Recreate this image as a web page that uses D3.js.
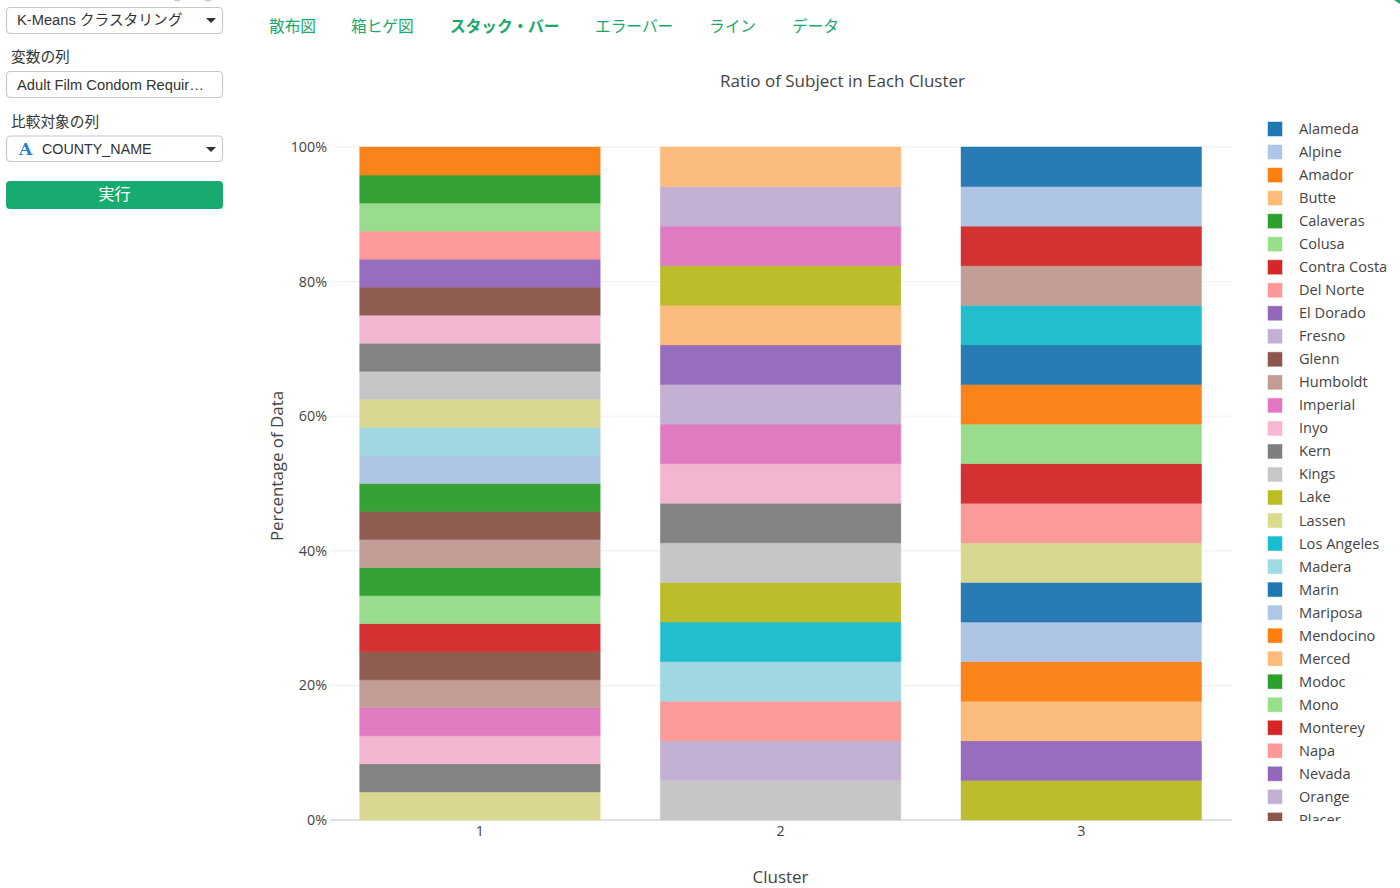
<!DOCTYPE html>
<html>
<head>
<meta charset="utf-8" />
<style>
body {
	margin: 0;
	background: #fff;
}
svg {
	display: block;
}
text {
	font-family: "Open Sans", "Noto Sans CJK JP", sans-serif;
	fill: #444;
}
.side text {
	font-family: "Liberation Sans", "Noto Sans CJK JP", sans-serif;
	font-size: 14.7px;
	fill: #333;
}
.side rect.box {
	fill: #fff;
	stroke: #c8c8c8;
	stroke-width: 1.2;
}
.nav text {
	font-family: "Noto Sans CJK JP", sans-serif;
	font-size: 15.7px;
	fill: #1aa86c;
}
.axis text {
	font-size: 14.3px;
}
.axis .domain {
	display: none;
}
.axis line {
	stroke: none;
}
</style>
</head>
<body>
<script src="https://d3js.org/d3.v7.min.js"></script>
<svg id="chart" width="1400" height="888"></svg>
<script>
// one row per county, in legend order
var counties = ["Alameda", "Alpine", "Amador", "Butte", "Calaveras", "Colusa", "Contra Costa", "Del Norte",
	"El Dorado", "Fresno", "Glenn", "Humboldt", "Imperial", "Inyo", "Kern", "Kings", "Lake", "Lassen",
	"Los Angeles", "Madera", "Marin", "Mariposa", "Mendocino", "Merced", "Modoc", "Mono", "Monterey", "Napa",
	"Nevada", "Orange", "Placer", "Plumas", "Riverside", "Sacramento", "San Benito", "San Bernardino",
	"San Diego", "San Francisco", "San Joaquin", "San Luis Obispo", "San Mateo", "Santa Barbara", "Santa Clara",
	"Santa Cruz", "Shasta", "Sierra", "Siskiyou", "Solano", "Sonoma", "Stanislaus", "Sutter", "Tehama",
	"Trinity", "Tulare", "Tuolumne", "Ventura", "Yolo", "Yuba"];

var countyCluster = [3, 3, 1, 2, 1, 1, 3, 1,
	1, 2, 1, 3, 2, 1, 1, 1, 2, 1,
	3, 1, 3, 1, 3, 2, 1, 3, 3, 3,
	2, 2, 1, 1, 2, 2, 2, 2,
	2, 3, 2, 2, 3, 3, 3,
	3, 1, 1, 1, 2, 3, 2, 1, 1,
	1, 1, 1, 2, 3, 1];

var countyShare = [5.88, 5.88, 4.17, 5.88, 4.17, 4.17, 5.88, 4.17,
	4.17, 5.88, 4.17, 5.88, 5.88, 4.17, 4.17, 4.17, 5.88, 4.17,
	5.88, 4.17, 5.88, 4.17, 5.88, 5.88, 4.17, 5.88, 5.88, 5.88,
	5.88, 5.88, 4.17, 4.17, 5.88, 5.88, 5.88, 5.88,
	5.88, 5.88, 5.88, 5.88, 5.88, 5.88, 5.88,
	5.88, 4.17, 4.17, 4.17, 5.88, 5.88, 5.88, 4.17, 4.17,
	4.17, 4.17, 4.17, 5.88, 5.88, 4.17];

var clusters = [1, 2, 3];
var yTicks = [0, 0.2, 0.4, 0.6, 0.8, 1];

var palette = ["#1f77b4", "#aec7e8", "#ff7f0e", "#ffbb78", "#2ca02c", "#98df8a", "#d62728", "#ff9896",
	"#9467bd", "#c5b0d5", "#8c564b", "#c49c94", "#e377c2", "#f7b6d2", "#7f7f7f", "#c7c7c7",
	"#bcbd22", "#dbdb8d", "#17becf", "#9edae5"];

var navItems = ["散布図", "箱ヒゲ図", "スタック・バー", "エラーバー", "ライン", "データ"];
var navX = [269, 351, 450, 595, 709, 792];

var svg = d3.select("#chart");

var x = d3.scaleBand().domain(clusters).range([329.6, 1231.6]).paddingInner(0.2).paddingOuter(0.1);
var y = d3.scaleLinear().domain([0, 1]).range([820, 147]);
var color = d3.scaleOrdinal().domain(counties).range(palette);

// bars stack upward, so the first county has to go in last
var rows = clusters.map(function(c) {
	var row = { cluster: c };
	counties.forEach(function(name, i) {
		row[name] = countyCluster[i] === c ? countyShare[i] : 0;
	});
	return row;
});
var series = d3.stack()
	.keys(counties.slice().reverse())
	.offset(d3.stackOffsetExpand)(rows);

// grid
svg.append("g").selectAll("line")
	.data(yTicks.slice(1))
	.join("line")
	.attr("x1", 330)
	.attr("x2", 1232)
	.attr("y1", function(d) { return y(d); })
	.attr("y2", function(d) { return y(d); })
	.attr("stroke", "#eee");

svg.append("line")
	.attr("x1", 330)
	.attr("x2", 1232)
	.attr("y1", y(0))
	.attr("y2", y(0))
	.attr("stroke", "#c4c4c4")
	.attr("stroke-width", 1.2);

// bars
series.forEach(function(s) {
	svg.append("g")
		.selectAll("rect")
		.data(s.filter(function(d) { return d[1] > d[0]; }))
		.join("rect")
		.attr("x", function(d) { return x(d.data.cluster); })
		.attr("y", function(d) { return y(d[1]); })
		.attr("width", x.bandwidth())
		.attr("height", function(d) { return y(d[0]) - y(d[1]); })
		.attr("fill", d3.color(color(s.key)).darker(0.06))
		.attr("fill-opacity", 0.95)
		.attr("stroke", color(s.key))
		.attr("stroke-opacity", 0.5)
		.attr("stroke-width", 0.8);
});

// axes
svg.append("g")
	.attr("class", "axis")
	.attr("transform", "translate(330,0)")
	.call(d3.axisLeft(y).tickValues(yTicks).tickFormat(d3.format(".0%")).tickSize(0).tickPadding(3));

svg.append("g")
	.attr("class", "axis")
	.attr("transform", "translate(0,820)")
	.call(d3.axisBottom(x).tickSize(0).tickPadding(6));

svg.append("text")
	.attr("x", 842.5)
	.attr("y", 87)
	.attr("text-anchor", "middle")
	.style("font-size", "17px")
	.text("Ratio of Subject in Each Cluster");

svg.append("text")
	.attr("x", 780.5)
	.attr("y", 883)
	.attr("text-anchor", "middle")
	.style("font-size", "17px")
	.text("Cluster");

svg.append("text")
	.attr("transform", "translate(283,466) rotate(-90)")
	.attr("text-anchor", "middle")
	.style("font-size", "16.9px")
	.text("Percentage of Data");

// legend, cut off at the bottom of the plot like the scroll box it came from
svg.append("clipPath")
	.attr("id", "legend-clip")
	.append("rect")
	.attr("x", 1250)
	.attr("y", 110)
	.attr("width", 150)
	.attr("height", 711);

var legendY = d3.scalePoint().domain(counties).range([129, 129 + 23.03 * (counties.length - 1)]);

var legend = svg.append("g")
	.attr("clip-path", "url(#legend-clip)")
	.selectAll("g")
	.data(counties.filter(function(d) { return legendY(d) < 830; }))
	.join("g")
	.attr("transform", function(d) { return "translate(1268," + legendY(d) + ")"; });

legend.append("rect")
	.attr("y", -7)
	.attr("width", 14)
	.attr("height", 14)
	.attr("fill", function(d) { return color(d); })
	.attr("stroke", function(d) { return color(d); })
	.attr("stroke-opacity", 0.5);

legend.append("text")
	.attr("x", 31)
	.attr("y", 5)
	.style("font-size", "14.6px")
	.text(function(d) { return d; });

// tabs
svg.append("g")
	.attr("class", "nav")
	.selectAll("text")
	.data(navItems)
	.join("text")
	.attr("x", function(d, i) { return navX[i]; })
	.attr("y", 32)
	.style("font-weight", function(d, i) { return i === 2 ? "700" : "400"; })
	.text(function(d) { return d; });

// sidebar
var side = svg.append("g").attr("class", "side");

function box(top, h) {
	side.append("rect")
		.attr("class", "box")
		.attr("x", 6.5)
		.attr("y", top)
		.attr("width", 216)
		.attr("height", h)
		.attr("rx", 4);
}
function caret(cy) {
	side.append("path")
		.attr("d", "M206," + cy + "h10l-5,5z")
		.attr("fill", "#333");
}
function label(tx, ty, s) {
	return side.append("text").attr("x", tx).attr("y", ty).text(s);
}

box(7.5, 26);
label(17, 25, "K-Means クラスタリング");
caret(18);

label(11, 62, "変数の列");
box(71.5, 26);
label(17, 90, "Adult Film Condom Requir…");

label(11, 127, "比較対象の列");
box(136, 25.5);
label(42, 154, "COUNTY_NAME").style("font-size", "14.3px");
label(19, 155, "A")
	.style("font-family", "'DejaVu Serif', serif")
	.style("font-weight", "700")
	.style("font-size", "17px")
	.style("fill", "#1a82d0");
caret(147);

side.append("rect")
	.attr("x", 6)
	.attr("y", 181)
	.attr("width", 217)
	.attr("height", 28)
	.attr("rx", 4)
	.attr("fill", "#17ab6f");
label(114.5, 199.5, "実行")
	.attr("text-anchor", "middle")
	.style("font-size", "16px")
	.style("fill", "#fff");

// bits of other page elements peeking in at the top edge
svg.append("path")
	.attr("d", "M1394,0h6v4z")
	.attr("fill", "#17ab6f");
svg.append("ellipse")
	.attr("cx", 177)
	.attr("cy", 0)
	.attr("rx", 3)
	.attr("ry", 1.5)
	.attr("fill", "#ccc");
svg.append("ellipse")
	.attr("cx", 208)
	.attr("cy", 0)
	.attr("rx", 3)
	.attr("ry", 1.5)
	.attr("fill", "#ccc");
</script>
</body>
</html>
